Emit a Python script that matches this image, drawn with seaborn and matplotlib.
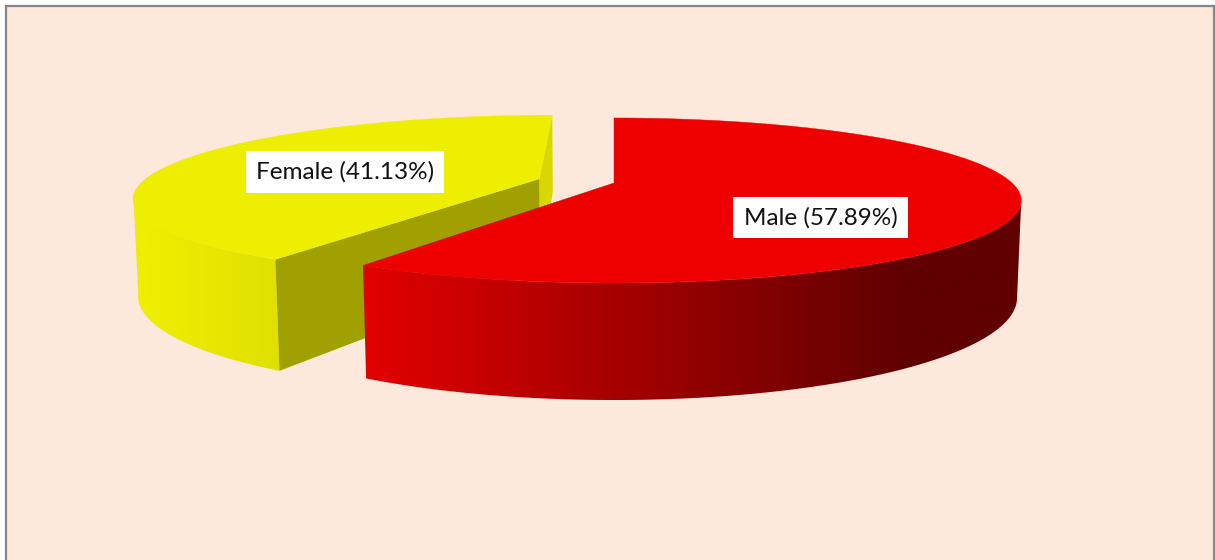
import numpy as np
import seaborn as sns
import matplotlib
matplotlib.use("Agg")
import matplotlib.pyplot as plt
from matplotlib.patches import Rectangle, Polygon

# data
labels = ['Male', 'Female']
shares = [57.89, 41.13]

# slice styling
top_colors = ['#ee0000', '#eeee00']
side_ramps = [['#e20000', '#600000'], ['#eeee00', '#e0e000']]
ramp_x = [(365, 905), (150, 280)]
start_cut_colors = ['#a00000', '#a0a000']
end_cut_colors = ['#d80000', '#d8d800']
explode = [0.0, 0.197]
layers = [10, 2]     # male sits in front of female
label_pos = [(820.5, 217.5), (345, 172)]

# 3d pie camera, all in picture pixels
cx, cy = 614, 183
a, b = 398, 78.8     # radius on screen
k = 0.212            # depth foreshortening
m = 0.0101           # shrink of the lower rim
c = 94.4             # height of the pie
seam_shift = np.radians(0.6)  # the seam between slices sits a bit further round

sns.set_theme(style="white")
plt.rcParams['font.family'] = ['Lato', 'DejaVu Sans']


def project(u, v, h=0):
    w = 1 + k * v + m * h
    return cx + a * u / w, cy + (-b * v + c * h) / w


def rim(theta, off, h=0):
    return project(off[0] + np.sin(theta), off[1] + np.cos(theta), h)


fig = plt.figure(figsize=(12.15, 5.6), dpi=100, facecolor='white')
ax = fig.add_axes([0, 0, 1, 1])
ax.axis('off')

# chart area, bottom edge runs off the picture
ax.add_patch(Rectangle((6, 6), 1208, 570, facecolor='#fde9db', edgecolor='#868686', lw=1.6, zorder=0))

fractions = np.array(shares) / sum(shares)
seam = fractions[0] * 2 * np.pi + seam_shift
spans = [(0, seam), (seam, 2 * np.pi)]

for i in range(len(labels)):
    t0, t1 = spans[i]
    z = layers[i]
    mid = (t0 + t1) / 2
    off = (explode[i] * np.sin(mid), explode[i] * np.cos(mid))
    thetas = np.linspace(t0, t1, 400)

    # curved side: colour ramp over x, clipped to the part of the rim facing us
    front = thetas[np.cos(thetas) < -k]
    outline = Polygon([rim(t, off) for t in front] + [rim(t, off, 1) for t in front[::-1]],
                      facecolor='none', edgecolor='none', zorder=z)
    ax.add_patch(outline)
    cmap = sns.blend_palette(side_ramps[i], 256, as_cmap=True)
    x0, x1 = ramp_x[i]
    pixel_x = np.arange(0, 1216)
    ramp_vals = np.clip((pixel_x - x0) / (x1 - x0), 0, 1)
    ramp = ax.imshow(ramp_vals[None, :], cmap=cmap, aspect='auto', interpolation='bilinear',
                     extent=(0, 1215, 420, 100), zorder=z)
    ramp.set_clip_path(outline)

    apex_top = project(off[0], off[1])
    apex_low = project(off[0], off[1], 1)
    if explode[i] > 0:
        ax.add_patch(Polygon([apex_top, rim(t1, off), rim(t1, off, 1), apex_low],
                             facecolor=end_cut_colors[i], edgecolor='none', zorder=z + 1))
        ax.add_patch(Polygon([apex_top, rim(t0, off), rim(t0, off, 1), apex_low],
                             facecolor=start_cut_colors[i], edgecolor='none', zorder=z + 1))

    top = [apex_top] + [rim(t, off) for t in thetas]
    ax.add_patch(Polygon(top, facecolor=top_colors[i], edgecolor=top_colors[i], lw=0.3, zorder=z + 2))

ax.set_xlim(0, 1215)
ax.set_ylim(560, 0)

for name, share, pos in zip(labels, shares, label_pos):
    ax.text(pos[0], pos[1], f"{name} ({share:.2f}%)", fontsize=17.5, color='#111111',
            ha='center', va='center', zorder=30,
            bbox=dict(boxstyle='square,pad=0.42', facecolor='white', edgecolor='none'))

plt.savefig('out.png', dpi=100)
